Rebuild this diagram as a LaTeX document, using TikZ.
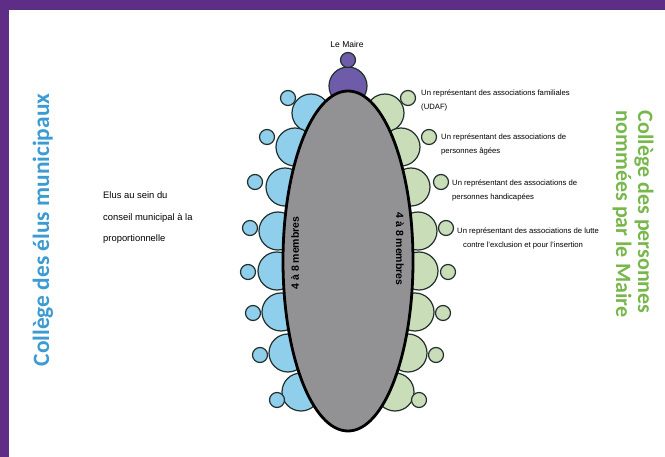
\documentclass[tikz,border=0pt]{standalone}
\usepackage{fontspec}
\setmainfont{Liberation Sans}
\newfontfamily\collegefont{Carlito}
\usetikzlibrary{positioning,shapes.geometric}
\definecolor{cFrame}{HTML}{5E2D85}
\definecolor{cElus}{HTML}{3C9BD2}
\definecolor{cNommes}{HTML}{78B74C}
\definecolor{cSeatBlue}{HTML}{8FCFEC}
\definecolor{cSeatGreen}{HTML}{CADDB9}
\definecolor{cMaire}{HTML}{6E5CAA}
\definecolor{cTable}{HTML}{929295}
\definecolor{cEdge}{HTML}{22302E}
\newcommand{\college}[1]{\collegefont\bfseries\fontsize{#1}{22}\selectfont}

\begin{document}
\begin{tikzpicture}[x=1pt,y=-1pt,
    seat/.style={circle,draw=cEdge,line width=1.2pt,inner sep=0pt},
    chair/.style={seat,minimum size=38pt},
    knob/.style={seat,minimum size=15pt},
    note/.style={anchor=west,align=left,inner sep=0pt,font=\fontsize{7.7}{14}\selectfont}]
    \useasboundingbox (0,0) rectangle (665,457);
    \fill[cFrame] (0,0) rectangle (665,10);
    \fill[cFrame] (0,0) rectangle (9,457);
    % seats round the table
    \foreach \i/\bx/\by/\sx/\sy in {1/311/113/288/98,2/295/147/267/137,3/285/187/255/182,
        4/278/231/250/228,5/277/271/248/272,6/281/312/253/313,7/288/353/260/355,8/301/392/277/400} {
      \node[chair,fill=cSeatBlue] (lb\i) at (\bx,\by) {};
      \node[knob,fill=cSeatBlue] (ls\i) at (\sx,\sy) {};
      \node[chair,fill=cSeatGreen] (rb\i) at ({696-\bx},\by) {};
      \node[knob,fill=cSeatGreen] (rs\i) at ({696-\sx},\sy) {};
    }
    \node[seat,fill=cMaire,minimum size=38pt] (mb) at (348,86) {};
    \node[seat,fill=cMaire,minimum size=15pt] (mh) at (348,60) {};
    \node[ellipse,draw=black,line width=2.8pt,fill=cTable,minimum width=130pt,minimum height=340pt] (table) at (348,261) {};
    \node[font=\fontsize{8.5}{9}\selectfont] (maire) at (347,44) {Le Maire};
    \node[rotate=90,font=\bfseries\fontsize{10.5}{11}\selectfont] (ml) at (295,253) {4 à 8 membres};
    \node[rotate=-90,font=\bfseries\fontsize{10.5}{11}\selectfont] (mr) at (400,249) {4 à 8 membres};
    % texts
    \node[note] (a1) at (421,100) {Un représentant des associations familiales\\(UDAF)};
    \node[note] (a2) at (441,144.5) {Un représentant des associations de\\personnes âgées};
    \node[note] (a3) at (452,190.5) {Un représentant des associations de\\personnes handicapées};
    \node[note] (a4) at (457,238) {Un représentant des associations de lutte\\\hspace*{6pt}contre l'exclusion et pour l'insertion};
    \node[note,font=\fontsize{9.4}{21.5}\selectfont] (elus) at (103,218) {Elus au sein du\\conseil municipal à la\\proportionnelle};
    \node[rotate=90,text=cElus,font=\college{23.4}] (ce) at (43,230) {Collège des élus municipaux};
    \node[rotate=-90,text=cNommes,align=left,font=\college{22}] (cn) at (633,214) {Collège des personnes\\nommées par le Maire};
\end{tikzpicture}
\end{document}
